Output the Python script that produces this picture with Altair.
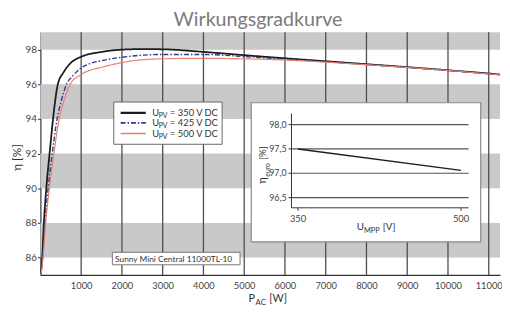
import altair as alt
import pandas as pd

# ---------------- data ----------------
series = ["350", "425", "500"]
p_350 = [8, 45, 85, 145, 225, 310, 360, 427, 571, 730, 971, 1535, 2000, 2500, 3000, 4000, 5000, 6000, 7000, 8000, 9000, 10000, 11000, 11277]
eta_350 = [85.0, 86.0, 88.0, 90.0, 92.0, 94.0, 95.0, 96.0, 96.7, 97.2, 97.56, 97.88, 98.0, 98.03, 98.02, 97.87, 97.68, 97.5, 97.33, 97.16, 96.99, 96.81, 96.62, 96.56]
p_425 = [10, 55, 110, 190, 290, 410, 507, 634, 812, 971, 1212, 1535, 2000, 2337, 3000, 4000, 5000, 6000, 7000, 8000, 9000, 10000, 11000, 11277]
eta_425 = [85.0, 86.0, 88.0, 90.0, 92.0, 94.0, 95.0, 95.96, 96.53, 96.9, 97.19, 97.38, 97.56, 97.65, 97.72, 97.72, 97.6, 97.45, 97.3, 97.14, 96.98, 96.8, 96.61, 96.56]
p_500 = [12, 65, 130, 220, 330, 460, 571, 730, 971, 1535, 2000, 2337, 3000, 4000, 5000, 6000, 7000, 8000, 9000, 10000, 11000, 11277]
eta_500 = [85.0, 86.0, 88.0, 90.0, 92.0, 94.0, 95.0, 96.0, 96.53, 97.0, 97.25, 97.38, 97.47, 97.5, 97.47, 97.4, 97.28, 97.13, 96.97, 96.8, 96.6, 96.55]

x_ticks = [1000, 2000, 3000, 4000, 5000, 6000, 7000, 8000, 9000, 10000, 11000]
y_ticks = [86, 88, 90, 92, 94, 96, 98]
band_lo = [86, 90, 94, 98]
band_hi = [88, 92, 96, 99]

u_mpp = [350, 500]
eta_euro = [97.5, 97.06]
inset_y_ticks = [96.5, 97.0, 97.5, 98.0]
inset_y_labels = ["96,5", "97,0", "97,5", "98,0"]
inset_x_ticks = [350, 500]
inset_x_labels = ["350", "500"]

legend_labels = ["= 350 V DC", "= 425 V DC", "= 500 V DC"]
title_text = "Wirkungsgradkurve"
model_text = "Sunny Mini Central 11000TL-10"

# ---------------- layout / style ----------------
W, H = 468, 247
X_DOM = [0, 11277]
Y_DOM = [85, 99]
IX_DOM = [113.0, 535.9]
IY_DOM = [94.911, 99.898]
FONT = "Lato"
COLORS = ["#1c1c1c", "#2e3a8c", "#e3826f"]
DASHES = [[1, 0], [5, 2, 1.5, 2], [1, 0]]
WIDTHS = [1.8, 1.4, 1.2]

xs = alt.Scale(domain=X_DOM, nice=False, zero=False)
ys = alt.Scale(domain=Y_DOM, nice=False, zero=False)
ixs = alt.Scale(domain=IX_DOM, nice=False, zero=False)
iys = alt.Scale(domain=IY_DOM, nice=False, zero=False)

xaxis = alt.Axis(values=x_ticks, title=None, grid=False, ticks=False, domainColor="#333",
                 domainWidth=1.2, labelFont=FONT, labelFontSize=9.5, labelColor="#444",
                 labelPadding=6, format="d")
yaxis = alt.Axis(values=y_ticks, title="η [%]", grid=False, tickSize=3, tickColor="#333",
                 domainColor="#333", domainWidth=1.2, labelFont=FONT, labelFontSize=10,
                 labelColor="#444", labelPadding=1, titleFont=FONT, titleFontSize=12,
                 titleFontWeight="normal", titleColor="#333", titleX=-17, titleY=127)


def txt(s, x, y, size, color="#333", align="left", baseline="alphabetic", angle=0):
    return alt.Chart().mark_text(text=s, font=FONT, fontSize=size, color=color, align=align,
                                 baseline=baseline, angle=angle).encode(
        x=alt.value(x), y=alt.value(y))


# ---------------- main chart ----------------
bands = alt.Chart(pd.DataFrame({"lo": band_lo, "hi": band_hi})).mark_rect(color="#c9c9c9").encode(
    y=alt.Y("lo:Q", scale=ys, axis=yaxis), y2="hi:Q", x=alt.value(0), x2=alt.value(W))

vlines = alt.Chart(pd.DataFrame({"p": x_ticks})).mark_rule(color="#4d4d4d", strokeWidth=1.3).encode(
    x=alt.X("p:Q", scale=xs, axis=xaxis), y=alt.value(0), y2=alt.value(H))

rows = []
for s, ps, es in zip(series, [p_350, p_425, p_500], [eta_350, eta_425, eta_500]):
    for p, e in zip(ps, es):
        rows.append({"s": s, "p": p, "eta": e})
curve_df = pd.DataFrame(rows)

curves = []
for i, s in enumerate(series):
    curves.append(
        alt.Chart(curve_df[curve_df.s == s]).mark_line(
            color=COLORS[i], strokeDash=DASHES[i], strokeWidth=WIDTHS[i], interpolate="monotone"
        ).encode(x=alt.X("p:Q", scale=xs, axis=xaxis), y=alt.Y("eta:Q", scale=ys, axis=yaxis))
    )

# legend (drawn by hand for subscripts)
legend_parts = [
    alt.Chart().mark_rect(fill="white", stroke="#666", strokeWidth=1).encode(
        x=alt.value(74.7), x2=alt.value(185), y=alt.value(71), y2=alt.value(114))
]
leg_y = [82, 92.3, 103]
for i, lab in enumerate(legend_labels):
    legend_parts.append(
        alt.Chart().mark_rule(color=COLORS[i], strokeDash=DASHES[i], strokeWidth=WIDTHS[i] + 0.4).encode(
            x=alt.value(81.7), x2=alt.value(107.3), y=alt.value(leg_y[i])))
    legend_parts.append(txt("U", 114, leg_y[i] + 3.5, 9.5))
    legend_parts.append(txt("PV", 120.5, leg_y[i] + 5.5, 7))
    legend_parts.append(txt(lab, 132, leg_y[i] + 3.5, 9.5))

model_box = [
    alt.Chart().mark_rect(fill="white", stroke="#777", strokeWidth=1).encode(
        x=alt.value(73.3), x2=alt.value(203.3), y=alt.value(224), y2=alt.value(236.7)),
    txt(model_text, 76, 233.5, 8.5, color="#333"),
]

titles = [
    txt(title_text, 221.5, -6, 20, color="#7b7b7b", align="center"),
    txt("P", 212, 275, 11),
    txt("AC", 219, 278, 8),
    txt("[W]", 233, 275, 11),
]

main = alt.layer(bands, vlines, *curves, *legend_parts, *model_box, *titles)

# ---------------- inset ----------------
IX0, IX1, IYB, IYT = 344, 507, 96.29, 98.23

frame = alt.Chart().mark_rect(fill="white", stroke="#8a8a8a", strokeWidth=1.2).encode(
    x=alt.value(214.7), x2=alt.value(448.3), y=alt.value(71.7), y2=alt.value(213.3))

igrid = alt.Chart(pd.DataFrame({"v": inset_y_ticks, "a": IX0, "b": IX1})).mark_rule(
    color="#555", strokeWidth=1.2).encode(
    x=alt.X("a:Q", scale=ixs, axis=None), x2="b:Q", y=alt.Y("v:Q", scale=iys, axis=None))

iyaxis = alt.Chart(pd.DataFrame({"a": [IX0], "v0": [IYB], "v1": [IYT]})).mark_rule(
    color="#333", strokeWidth=1).encode(
    x=alt.X("a:Q", scale=ixs, axis=None), y=alt.Y("v0:Q", scale=iys, axis=None), y2="v1:Q")

ixaxis = alt.Chart(pd.DataFrame({"a": [IX0], "b": [IX1], "v": [IYB]})).mark_rule(
    color="#333", strokeWidth=1).encode(
    x=alt.X("a:Q", scale=ixs, axis=None), x2="b:Q", y=alt.Y("v:Q", scale=iys, axis=None))

iyticks = alt.Chart(pd.DataFrame({"v": inset_y_ticks, "a": IX0 - 2.7, "b": IX0})).mark_rule(
    color="#333", strokeWidth=1).encode(
    x=alt.X("a:Q", scale=ixs, axis=None), x2="b:Q", y=alt.Y("v:Q", scale=iys, axis=None))

ixticks = alt.Chart(pd.DataFrame({"u": inset_x_ticks, "v0": IYB, "v1": IYB - 0.06})).mark_rule(
    color="#333", strokeWidth=1).encode(
    x=alt.X("u:Q", scale=ixs, axis=None), y=alt.Y("v0:Q", scale=iys, axis=None), y2="v1:Q")

iylabels = alt.Chart(pd.DataFrame({"v": inset_y_ticks, "t": inset_y_labels, "a": IX0})).mark_text(
    font=FONT, fontSize=9, color="#444", align="right", baseline="middle", dx=-5).encode(
    x=alt.X("a:Q", scale=ixs, axis=None), y=alt.Y("v:Q", scale=iys, axis=None), text="t:N")

ixlabels = alt.Chart(pd.DataFrame({"u": inset_x_ticks, "t": inset_x_labels, "v": IYB})).mark_text(
    font=FONT, fontSize=9.5, color="#444", align="center", baseline="middle", dy=11).encode(
    x=alt.X("u:Q", scale=ixs, axis=None), y=alt.Y("v:Q", scale=iys, axis=None), text="t:N")

iline = alt.Chart(pd.DataFrame({"u": u_mpp, "e": eta_euro})).mark_line(
    color="#1c1c1c", strokeWidth=1.5).encode(
    x=alt.X("u:Q", scale=ixs, axis=None), y=alt.Y("e:Q", scale=iys, axis=None))

ititles = [
    txt("U", 322, 201, 10),
    txt("MPP", 329.5, 204, 7.5),
    txt("[V]", 348.5, 201, 10),
    txt("η", 230, 154, 11, angle=270),
    txt("euro", 233.5, 147, 7, angle=270),
    txt("[%]", 230, 130, 10, angle=270),
]

inset = alt.layer(frame, igrid, iyaxis, ixaxis, iyticks, ixticks, iylabels, ixlabels, iline, *ititles)

chart = alt.layer(main, inset).resolve_scale(x="independent", y="independent").properties(
    width=W, height=H,
    padding={"left": 33, "top": 22, "right": 2, "bottom": 33},
    autosize=alt.AutoSizeParams(type="none"),
    background="white",
).configure_view(stroke=None)

chart.save("out.html", embed_options={"renderer": "svg", "actions": False})
